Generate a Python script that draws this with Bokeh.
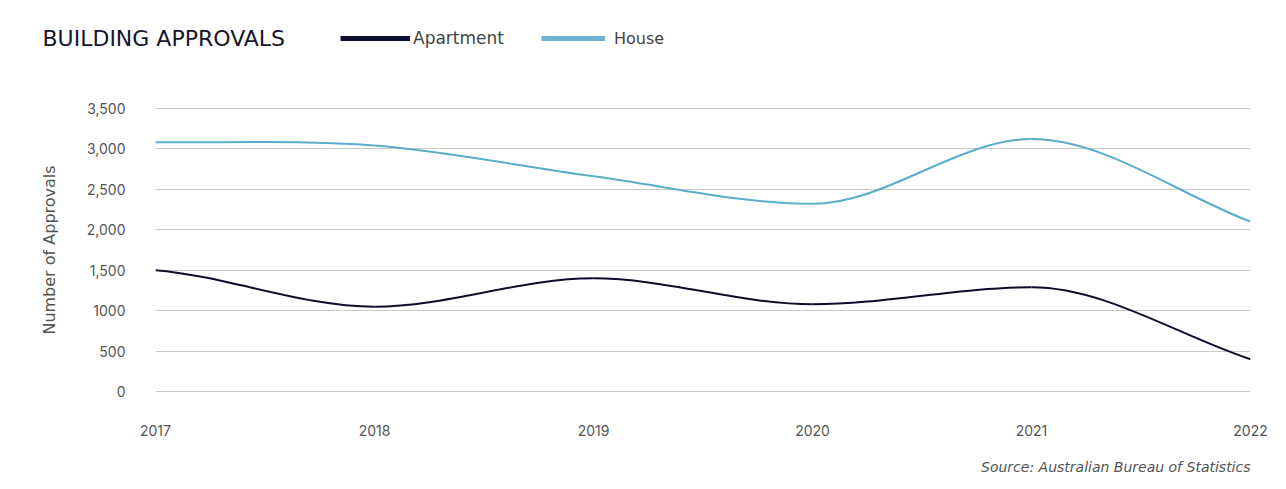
from bokeh.plotting import figure
from bokeh.models import (Range1d, FixedTicker, Label, Legend, LegendItem, ColumnDataSource)
from bokeh.layouts import column
from bokeh.embed import file_html
from bokeh.resources import INLINE

# ---- data ----
years = ["2017", "2018", "2019", "2020", "2021", "2022"]
apartment = [1500, 1050, 1400, 1080, 1290, 400]
house = [3080, 3040, 2660, 2320, 3120, 2100]
y_ticks = [0, 500, 1000, 1500, 2000, 2500, 3000, 3500]
y_tick_labels = ["0", "500", "1000", "1,500", "2,000", "2,500", "3,000", "3,500"]

FONT = "Inter"
WIDE = "DejaVu Sans"
APT_COLOR = "#0d0d2b"
HOUSE_COLOR = "#5aaccc"
TEXT_COLOR = "#555555"
W = 1280
LEFT = 155
RIGHT = 1250
HEADER_H = 70
MAIN_H = 385
FOOTER_H = 30


def smooth_segments(vals):
    """Cubic Bezier segments through the data points (smoothed line rendering)."""
    n = len(vals)
    m = [0.0] * n
    for i in range(1, n - 1):
        if (vals[i] - vals[i - 1]) * (vals[i + 1] - vals[i]) <= 0:
            m[i] = 0.0
        else:
            m[i] = (vals[i + 1] - vals[i - 1]) / 2.0
    m[0] = (vals[1] - vals[0]) / 2.0
    m[-1] = (vals[-1] - vals[-2])
    d = dict(x0=[], y0=[], x1=[], y1=[], cx0=[], cy0=[], cx1=[], cy1=[])
    for i in range(n - 1):
        d["x0"].append(i)
        d["y0"].append(vals[i])
        d["x1"].append(i + 1)
        d["y1"].append(vals[i + 1])
        d["cx0"].append(i + 1 / 3)
        d["cy0"].append(vals[i] + m[i] / 3)
        d["cx1"].append(i + 2 / 3)
        d["cy1"].append(vals[i + 1] - m[i + 1] / 3)
    return ColumnDataSource(d)


def blank(height):
    f = figure(width=W, height=height, output_backend="svg", toolbar_location=None,
               x_range=Range1d(0, 1), y_range=Range1d(0, 1),
               min_border_left=0, min_border_right=0,
               min_border_top=0, min_border_bottom=0)
    f.frame_align = False
    f.axis.visible = False
    f.grid.grid_line_color = None
    f.outline_line_color = None
    return f


# ---- header: title + legend ----
header = blank(HEADER_H)
header.add_layout(Label(x=42, y=HEADER_H - 38, x_units="screen", y_units="screen",
                        text="BUILDING APPROVALS", text_font=WIDE, text_font_size="22px",
                        text_color="#15162b", text_baseline="middle", text_align="left"))
r_apt = header.line(x=[-10, -9], y=[-10, -10], line_color="#0e0f33", line_width=5)
r_house = header.line(x=[-10, -9], y=[-10, -10], line_color="#6cb3cf", line_width=5)


def make_legend(label, renderer, x, gw, standoff, size):
    return Legend(items=[LegendItem(label=label, renderers=[renderer])],
                  location=(x, HEADER_H - 48),
                  orientation="horizontal", glyph_width=gw, glyph_height=20,
                  label_standoff=standoff, padding=0, margin=0, spacing=0,
                  border_line_color=None, background_fill_alpha=0,
                  label_text_font=WIDE, label_text_font_size=size,
                  label_text_color="#444444", label_height=20)


header.add_layout(make_legend("Apartment", r_apt, 340, 70, 3, "17px"), "center")
header.add_layout(make_legend("House", r_house, 541, 64, 9, "16px"), "center")

# ---- main chart ----
frame_top = 107 - HEADER_H
frame_bottom = 392 - HEADER_H
p = figure(width=W, height=MAIN_H, output_backend="svg", toolbar_location=None,
           x_range=Range1d(0, len(years) - 1), y_range=Range1d(-10, 3510),
           min_border_left=LEFT, min_border_right=W - RIGHT, min_border_top=frame_top,
           min_border_bottom=MAIN_H - frame_bottom)
p.outline_line_color = None

p.xgrid.grid_line_color = None
p.ygrid.grid_line_color = "#c9c9c9"
p.ygrid.grid_line_width = 1

p.yaxis.ticker = FixedTicker(ticks=y_ticks)
p.yaxis.major_label_overrides = {t: l for t, l in zip(y_ticks, y_tick_labels)}
p.xaxis.ticker = FixedTicker(ticks=list(range(len(years))))
p.xaxis.major_label_overrides = {i: y for i, y in enumerate(years)}
for ax in (p.xaxis, p.yaxis):
    ax.axis_line_color = None
    ax.major_tick_line_color = None
    ax.minor_tick_line_color = None
    ax.major_label_text_font = FONT
    ax.major_label_text_font_size = "14px"
    ax.major_label_text_color = TEXT_COLOR
p.yaxis.major_label_standoff = 24
p.xaxis.major_label_standoff = 26
p.yaxis.axis_label = "Number of Approvals"
p.yaxis.axis_label_text_font = WIDE
p.yaxis.axis_label_text_font_size = "16px"
p.yaxis.axis_label_text_font_style = "normal"
p.yaxis.axis_label_text_color = TEXT_COLOR
p.yaxis.axis_label_standoff = 25

p.bezier(x0="x0", y0="y0", x1="x1", y1="y1", cx0="cx0", cy0="cy0", cx1="cx1", cy1="cy1",
         source=smooth_segments(house), line_color=HOUSE_COLOR, line_width=2)
p.bezier(x0="x0", y0="y0", x1="x1", y1="y1", cx0="cx0", cy0="cy0", cx1="cx1", cy1="cy1",
         source=smooth_segments(apartment), line_color=APT_COLOR, line_width=2)

# ---- footer: source ----
footer = blank(FOOTER_H)
footer.add_layout(Label(x=RIGHT, y=FOOTER_H - (466 - HEADER_H - MAIN_H),
                        x_units="screen", y_units="screen",
                        text="Source: Australian Bureau of Statistics",
                        text_font=WIDE, text_font_size="14px", text_font_style="italic",
                        text_color=TEXT_COLOR, text_baseline="middle", text_align="right"))

layout = column(header, p, footer, spacing=0)
open("out.html", "w").write(file_html(layout, INLINE))
